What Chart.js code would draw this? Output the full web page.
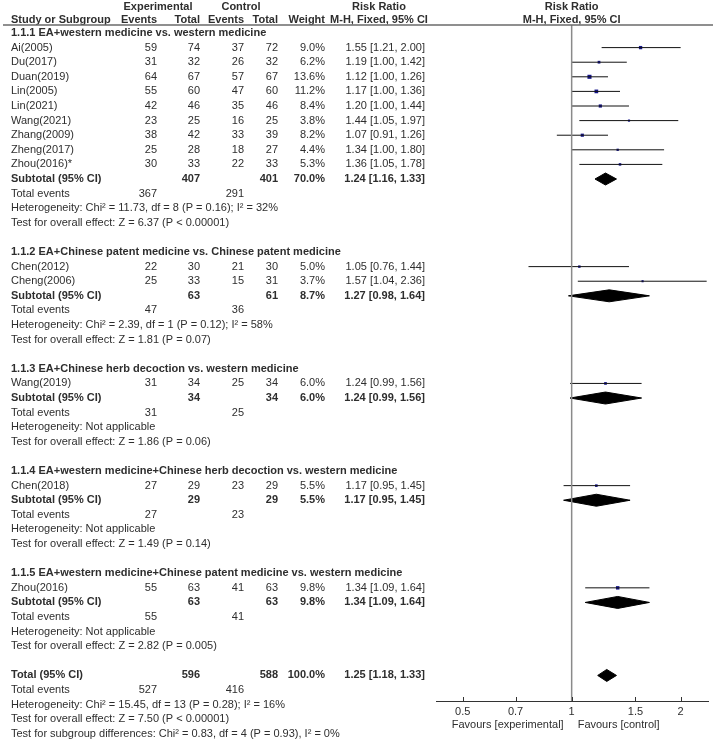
<!DOCTYPE html>
<html><head><meta charset="utf-8">
<script src="https://cdn.jsdelivr.net/npm/chart.js@4.4.1/dist/chart.umd.min.js"></script>
<style>html,body{margin:0;padding:0;background:#fff;overflow:hidden}canvas{display:block}</style>
</head><body>
<canvas id="c" width="719" height="739"></canvas>
<script>
// ---------- data ----------
const studies = ["Ai(2005)","Du(2017)","Duan(2019)","Lin(2005)","Lin(2021)","Wang(2021)","Zhang(2009)","Zheng(2017)","Zhou(2016)*","Chen(2012)","Cheng(2006)","Wang(2019)","Chen(2018)","Zhou(2016)"];
const subgroupOf = [0,0,0,0,0,0,0,0,0,1,1,2,3,4];
const expEvents = [59,31,64,55,42,23,38,25,30,22,25,31,27,55];
const expTotal  = [74,32,67,60,46,25,42,28,33,30,33,34,29,63];
const ctrlEvents= [37,26,57,47,35,16,33,18,22,21,15,25,23,41];
const ctrlTotal = [72,32,67,60,46,25,39,27,33,30,31,34,29,63];
const weights   = [9.0,6.2,13.6,11.2,8.4,3.8,8.2,4.4,5.3,5.0,3.7,6.0,5.5,9.8];
const rr        = [1.55,1.19,1.12,1.17,1.20,1.44,1.07,1.34,1.36,1.05,1.57,1.24,1.17,1.34];
const ciLow     = [1.21,1.00,1.00,1.00,1.00,1.05,0.91,1.00,1.05,0.76,1.04,0.99,0.95,1.09];
const ciHigh    = [2.00,1.42,1.26,1.36,1.44,1.97,1.26,1.80,1.78,1.44,2.36,1.56,1.45,1.64];

const subgroupTitles = [
 "1.1.1 EA+western medicine vs. western medicine",
 "1.1.2 EA+Chinese patent medicine vs. Chinese patent medicine",
 "1.1.3 EA+Chinese herb decoction vs. western medicine",
 "1.1.4 EA+western medicine+Chinese herb decoction vs. western medicine",
 "1.1.5 EA+western medicine+Chinese patent medicine vs. western medicine"];
const subExpTotal   = [407,63,34,29,63];
const subCtrlTotal  = [401,61,34,29,63];
const subWeight     = [70.0,8.7,6.0,5.5,9.8];
const subRR         = [1.24,1.27,1.24,1.17,1.34];
const subLow        = [1.16,0.98,0.99,0.95,1.09];
const subHigh       = [1.33,1.64,1.56,1.45,1.64];
const subExpEvents  = [367,47,31,27,55];
const subCtrlEvents = [291,36,25,23,41];
const subHet = [
 "Heterogeneity: Chi\u00b2 = 11.73, df = 8 (P = 0.16); I\u00b2 = 32%",
 "Heterogeneity: Chi\u00b2 = 2.39, df = 1 (P = 0.12); I\u00b2 = 58%",
 "Heterogeneity: Not applicable",
 "Heterogeneity: Not applicable",
 "Heterogeneity: Not applicable"];
const subTest = [
 "Test for overall effect: Z = 6.37 (P < 0.00001)",
 "Test for overall effect: Z = 1.81 (P = 0.07)",
 "Test for overall effect: Z = 1.86 (P = 0.06)",
 "Test for overall effect: Z = 1.49 (P = 0.14)",
 "Test for overall effect: Z = 2.82 (P = 0.005)"];

const total = {expTotal:596, ctrlTotal:588, weight:100.0, rr:1.25, low:1.18, high:1.33, expEvents:527, ctrlEvents:416};
const totalHet  = "Heterogeneity: Chi\u00b2 = 15.45, df = 13 (P = 0.28); I\u00b2 = 16%";
const totalTest = "Test for overall effect: Z = 7.50 (P < 0.00001)";
const subgroupDiff = "Test for subgroup differences: Chi\u00b2 = 0.83, df = 4 (P = 0.93), I\u00b2 = 0%";
const tickValues = [0.5, 0.7, 1, 1.5, 2];
const axisMin = 0.422, axisMax = 2.38;

// ---------- row layout ----------
const studyRow = [], subRow = [];
const textRows = [];
let r = 0;
subgroupTitles.forEach((t, g) => {
  textRows.push({kind:'title', g, r}); r++;
  studies.forEach((s, i) => { if (subgroupOf[i] === g) { studyRow[i] = r; textRows.push({kind:'study', i, r}); r++; } });
  subRow[g] = r; textRows.push({kind:'sub', g, r}); r++;
  textRows.push({kind:'subEv', g, r}); r++;
  textRows.push({kind:'line', text: subHet[g], r}); r++;
  textRows.push({kind:'line', text: subTest[g], r}); r++;
  r++;
});
const totalRow = r;
textRows.push({kind:'total', r}); r++;
textRows.push({kind:'totEv', r}); r++;
textRows.push({kind:'line', text: totalHet, r}); r++;
textRows.push({kind:'line', text: totalTest, r}); r++;
textRows.push({kind:'line', text: subgroupDiff, r}); r++;

const yMin = -0.548, yMax = 45.75;
const DH = 0.41; // diamond half height in rows

// ---------- datasets ----------
const datasets = [];
datasets.push({data:[{x:1,y:yMin},{x:1,y:yMax}], borderColor:'#8a8a8a', borderWidth:1.5, pointRadius:0, fill:false});
studies.forEach((s, i) => {
  datasets.push({data:[{x:ciLow[i],y:studyRow[i]},{x:ciHigh[i],y:studyRow[i]}], borderColor:'#111', borderWidth:1, pointRadius:0, fill:false});
});
datasets.push({data: studies.map((s,i)=>({x:rr[i], y:studyRow[i]})), showLine:false,
  pointStyle:'rect', pointRadius: weights.map(w=>Math.sqrt(w)*0.78), backgroundColor:'#14148c', borderColor:'#14148c', borderWidth:0});
function diamond(est, lo, hi, row){
  return {data:[{x:lo,y:row},{x:est,y:row-DH},{x:hi,y:row},{x:est,y:row+DH},{x:lo,y:row}],
    borderColor:'#000', backgroundColor:'#000', borderWidth:1, pointRadius:0, fill:'shape', tension:0};
}
subRR.forEach((v,g)=>datasets.push(diamond(v, subLow[g], subHigh[g], subRow[g])));
datasets.push(diamond(total.rr, total.low, total.high, totalRow));

// ---------- text plugin ----------
const FONT = '11px "Liberation Sans", Arial, sans-serif';
const BOLD = 'bold 11px "Liberation Sans", Arial, sans-serif';
const COL = {label:11, expEv:157, expTot:200, ctlEv:244, ctlTot:278, weight:325, ci:425};
const TXT = '#2e2e2e';
const fmtCI = (e,l,h) => e.toFixed(2)+' ['+l.toFixed(2)+', '+h.toFixed(2)+']';

const tablePlugin = {
  id:'table',
  afterDraw(chart){
    const ctx = chart.ctx, ys = chart.scales.y, xs = chart.scales.x, ca = chart.chartArea;
    ctx.save();
    ctx.fillStyle = TXT; ctx.textBaseline = 'middle';
    const t = (s, x, y, align, bold) => { ctx.font = bold ? BOLD : FONT; ctx.textAlign = align || 'left'; ctx.fillText(s, x, y); };
    // headers
    const h1 = 6.5, h2 = 19.5;
    t('Experimental', 158, h1, 'center', true);
    t('Control', 241, h1, 'center', true);
    t('Risk Ratio', 379, h1, 'center', true);
    t('Risk Ratio', xs.getPixelForValue(1), h1, 'center', true);
    t('Study or Subgroup', COL.label, h2, 'left', true);
    t('Events', COL.expEv, h2, 'right', true);
    t('Total', COL.expTot, h2, 'right', true);
    t('Events', COL.ctlEv, h2, 'right', true);
    t('Total', COL.ctlTot, h2, 'right', true);
    t('Weight', COL.weight, h2, 'right', true);
    t('M-H, Fixed, 95% CI', 379, h2, 'center', true);
    t('M-H, Fixed, 95% CI', xs.getPixelForValue(1), h2, 'center', true);
    ctx.strokeStyle = '#6a6a6a'; ctx.lineWidth = 1.5;
    ctx.beginPath(); ctx.moveTo(3, ca.top); ctx.lineTo(713, ca.top); ctx.stroke();
    textRows.forEach(row => {
      const y = ys.getPixelForValue(row.r);
      if (row.kind === 'title') t(subgroupTitles[row.g], COL.label, y, 'left', true);
      else if (row.kind === 'study') {
        const i = row.i;
        t(studies[i], COL.label, y);
        t(String(expEvents[i]), COL.expEv, y, 'right');
        t(String(expTotal[i]), COL.expTot, y, 'right');
        t(String(ctrlEvents[i]), COL.ctlEv, y, 'right');
        t(String(ctrlTotal[i]), COL.ctlTot, y, 'right');
        t(weights[i].toFixed(1)+'%', COL.weight, y, 'right');
        t(fmtCI(rr[i], ciLow[i], ciHigh[i]), COL.ci, y, 'right');
      } else if (row.kind === 'sub') {
        const g = row.g;
        t('Subtotal (95% CI)', COL.label, y, 'left', true);
        t(String(subExpTotal[g]), COL.expTot, y, 'right', true);
        t(String(subCtrlTotal[g]), COL.ctlTot, y, 'right', true);
        t(subWeight[g].toFixed(1)+'%', COL.weight, y, 'right', true);
        t(fmtCI(subRR[g], subLow[g], subHigh[g]), COL.ci, y, 'right', true);
      } else if (row.kind === 'subEv') {
        t('Total events', COL.label, y);
        t(String(subExpEvents[row.g]), COL.expEv, y, 'right');
        t(String(subCtrlEvents[row.g]), COL.ctlEv, y, 'right');
      } else if (row.kind === 'total') {
        t('Total (95% CI)', COL.label, y, 'left', true);
        t(String(total.expTotal), COL.expTot, y, 'right', true);
        t(String(total.ctrlTotal), COL.ctlTot, y, 'right', true);
        t(total.weight.toFixed(1)+'%', COL.weight, y, 'right', true);
        t(fmtCI(total.rr, total.low, total.high), COL.ci, y, 'right', true);
      } else if (row.kind === 'totEv') {
        t('Total events', COL.label, y);
        t(String(total.expEvents), COL.expEv, y, 'right');
        t(String(total.ctrlEvents), COL.ctlEv, y, 'right');
      } else if (row.kind === 'line') {
        t(row.text, COL.label, y);
      }
    });
    // axis tick marks
    ctx.strokeStyle = '#333'; ctx.lineWidth = 1;
    tickValues.forEach(v => { const x = Math.round(xs.getPixelForValue(v)) + 0.5; ctx.beginPath(); ctx.moveTo(x, ca.bottom - 4); ctx.lineTo(x, ca.bottom + 1); ctx.stroke(); });
    // favours labels
    const x1 = xs.getPixelForValue(1);
    t('Favours [experimental]', x1 - 8, 725, 'right');
    t('Favours [control]', x1 + 6, 725, 'left');
    ctx.restore();
  }
};

new Chart(document.getElementById('c'), {
  type:'line',
  data:{datasets},
  options:{
    responsive:false, animation:false, devicePixelRatio:1, events:[],
    layout:{padding:{left:436, right:11, top:25, bottom:0}},
    plugins:{legend:{display:false}, tooltip:{enabled:false}, filler:{propagate:false}},
    elements:{line:{tension:0}},
    scales:{
      x:{type:'logarithmic', min:axisMin, max:axisMax,
         afterBuildTicks: s => { s.ticks = tickValues.map(v=>({value:v})); },
         afterFit: s => { s.height = 38; },
         grid:{display:false, drawTicks:false, tickLength:0}, border:{display:true, color:'#333', width:1},
         ticks:{autoSkip:false, maxRotation:0, padding:4, color:TXT, font:{family:'"Liberation Sans", Arial, sans-serif', size:11},
                callback: v => String(v)}},
      y:{type:'linear', display:false, reverse:true, min:yMin, max:yMax}
    }
  },
  plugins:[tablePlugin]
});
</script>
</body></html>
